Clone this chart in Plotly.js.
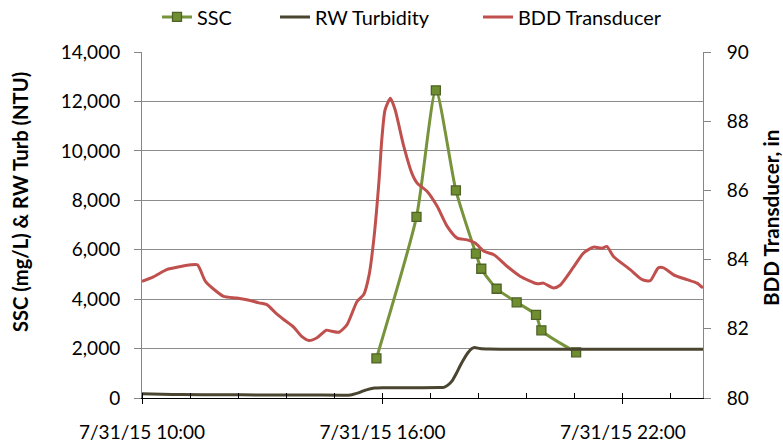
<!DOCTYPE html>
<html>
<head>
<meta charset="utf-8">
<script src="https://cdn.plot.ly/plotly-3.0.1.min.js"></script>
<style>html,body{margin:0;padding:0;background:#fff;}#chart{width:783px;height:442px;}</style>
</head>
<body>
<div id="chart"></div>
<script>
// ---- data ----
const sscTimes = ["2015-07-31 15:51","2015-07-31 16:51","2015-07-31 17:20","2015-07-31 17:50","2015-07-31 18:20","2015-07-31 18:28","2015-07-31 18:51","2015-07-31 19:21","2015-07-31 19:50","2015-07-31 19:58","2015-07-31 20:50"];
const sscValues = [1600, 7330, 12450, 8400, 5840, 5230, 4420, 3870, 3360, 2740, 1850];

const rwTimes = ["2015-07-31 10:00","2015-07-31 10:30","2015-07-31 11:00","2015-07-31 12:00","2015-07-31 13:00","2015-07-31 14:00","2015-07-31 15:00","2015-07-31 15:12","2015-07-31 15:24","2015-07-31 15:36","2015-07-31 15:48","2015-07-31 16:00","2015-07-31 16:30","2015-07-31 17:00","2015-07-31 17:25","2015-07-31 17:32","2015-07-31 17:38","2015-07-31 17:44","2015-07-31 17:50","2015-07-31 17:56","2015-07-31 18:02","2015-07-31 18:08","2015-07-31 18:14","2015-07-31 18:18","2015-07-31 18:26","2015-07-31 18:40","2015-07-31 19:00","2015-07-31 20:00","2015-07-31 21:00","2015-07-31 22:00","2015-07-31 23:00","2015-08-01 00:00"];
const rwValues = [170, 150, 140, 130, 125, 120, 115, 125, 210, 330, 400, 415, 415, 415, 420, 430, 520, 680, 960, 1285, 1580, 1830, 2000, 2040, 2000, 1980, 1975, 1975, 1975, 1975, 1975, 1975];

const bddTimes = ["2015-07-31 10:00","2015-07-31 10:17","2015-07-31 10:37","2015-07-31 10:58","2015-07-31 11:13","2015-07-31 11:23","2015-07-31 11:35","2015-07-31 11:47","2015-07-31 12:02","2015-07-31 12:22","2015-07-31 12:37","2015-07-31 12:55","2015-07-31 13:07","2015-07-31 13:20","2015-07-31 13:32","2015-07-31 13:47","2015-07-31 13:59","2015-07-31 14:10","2015-07-31 14:22","2015-07-31 14:36","2015-07-31 14:44","2015-07-31 14:55","2015-07-31 15:07","2015-07-31 15:22","2015-07-31 15:32","2015-07-31 15:40","2015-07-31 15:47","2015-07-31 15:55","2015-07-31 15:59","2015-07-31 16:04","2015-07-31 16:12","2015-07-31 16:19","2015-07-31 16:32","2015-07-31 16:44","2015-07-31 16:52","2015-07-31 17:07","2015-07-31 17:22","2015-07-31 17:37","2015-07-31 17:52","2015-07-31 18:07","2015-07-31 18:19","2015-07-31 18:32","2015-07-31 18:47","2015-07-31 19:07","2015-07-31 19:26","2015-07-31 19:52","2015-07-31 20:01","2015-07-31 20:16","2015-07-31 20:26","2015-07-31 20:46","2015-07-31 21:01","2015-07-31 21:16","2015-07-31 21:29","2015-07-31 21:36","2015-07-31 21:46","2015-07-31 22:11","2015-07-31 22:29","2015-07-31 22:41","2015-07-31 22:53","2015-07-31 23:01","2015-07-31 23:16","2015-07-31 23:36","2015-07-31 23:51","2015-08-01 00:00"];
const bddValues = [83.37, 83.50, 83.71, 83.80, 83.85, 83.85, 83.37, 83.15, 82.94, 82.89, 82.84, 82.75, 82.70, 82.46, 82.27, 82.05, 81.78, 81.66, 81.74, 81.96, 81.93, 81.90, 82.12, 82.79, 82.99, 83.55, 84.57, 86.31, 87.46, 88.33, 88.66, 88.33, 87.27, 86.50, 86.21, 85.97, 85.54, 84.96, 84.62, 84.57, 84.48, 84.24, 84.14, 83.80, 83.52, 83.30, 83.32, 83.18, 83.26, 83.78, 84.19, 84.36, 84.33, 84.38, 84.09, 83.71, 83.42, 83.39, 83.76, 83.76, 83.56, 83.42, 83.32, 83.18];

const xRange = ["2015-07-31 10:00", "2015-08-01 00:00"];
const xTickVals = ["2015-07-31 10:00", "2015-07-31 16:00", "2015-07-31 22:00"];
const xTickText = ["7/31/15 10:00", "7/31/15 16:00", "7/31/15 22:00"];
const seriesNames = ["SSC", "RW Turbidity", "BDD Transducer"];
const leftTitle = "SSC (mg/L) & RW Turb (NTU)";
const rightTitle = "BDD Transducer, in";

// ---- geometry (pixels) ----
const W = 783, H = 442;
const M = {l: 142, r: 80, t: 52, b: 44};
const PW = W - M.l - M.r, PH = H - M.t - M.b;
const px2x = p => (p - M.l) / PW;
const px2y = p => (H - M.b - p) / PH;

// ---- font sizing from target text widths ----
const FONT = "Lato, 'Open Sans', sans-serif";
const cv = document.createElement("canvas").getContext("2d");
function fitSize(text, weight, target) {
  cv.font = weight + " 100px Lato, 'Open Sans', sans-serif";
  return 100 * target / cv.measureText(text).width;
}
const tickSize = (fitSize("7/31/15 22:00", "normal", 127) + fitSize("14,000", "normal", 59)) / 2;
const legendSize = fitSize("RW Turbidity", "normal", 115);
const leftTitleSize = fitSize(leftTitle, "bold", 261);
const rightTitleSize = fitSize(rightTitle, "bold", 177);

// ---- chart ----
const traces = [
  {
    x: sscTimes, y: sscValues, name: seriesNames[0], type: "scatter", mode: "lines+markers",
    line: {color: "#77933C", width: 3, shape: "spline", smoothing: 0.6},
    marker: {symbol: "square", size: 9, color: "#6F8E2F", line: {color: "#4F6228", width: 1.3}},
    xaxis: "x", yaxis: "y", legend: "legend"
  },
  {
    x: rwTimes, y: rwValues, name: seriesNames[1], type: "scatter", mode: "lines",
    line: {color: "#4A4530", width: 3, shape: "spline", smoothing: 0.6},
    xaxis: "x", yaxis: "y", legend: "legend2"
  },
  {
    x: bddTimes, y: bddValues, name: seriesNames[2], type: "scatter", mode: "lines",
    line: {color: "#C0504D", width: 3, shape: "spline", smoothing: 0.6},
    xaxis: "x", yaxis: "y2", legend: "legend3"
  }
];

function legendAt(textStartPx) {
  return {
    orientation: "h", x: px2x(textStartPx - 45), xanchor: "left", y: px2y(17), yanchor: "middle",
    font: {family: FONT, size: legendSize, color: "#000"}, bgcolor: "rgba(0,0,0,0)", borderwidth: 0
  };
}

const layout = {
  width: W, height: H,
  margin: {l: M.l, r: M.r, t: M.t, b: M.b, pad: 0, autoexpand: false},
  paper_bgcolor: "#fff", plot_bgcolor: "#fff",
  font: {family: FONT, size: tickSize, color: "#000"},
  showlegend: true,
  legend: legendAt(202),
  legend2: legendAt(320),
  legend3: legendAt(523),
  xaxis: {
    type: "date", range: xRange, tickmode: "array", tickvals: xTickVals, ticktext: xTickText,
    ticks: "outside", ticklen: 5, tickcolor: "#000", tickwidth: 1,
    showline: true, linecolor: "#000", linewidth: 1, showgrid: false, zeroline: false,
    tickfont: {family: FONT, size: tickSize, color: "#000"}, ticklabelstandoff: 12,
    minor: {tickmode: "linear", dtick: 72 * 60 * 1000, tick0: "2015-07-31 10:00", ticks: "inside", ticklen: 5, tickcolor: "#000", tickwidth: 1, showgrid: false},
    automargin: false
  },
  xaxis2: {
    type: "date", range: xRange, tickmode: "array", tickvals: xTickVals, overlaying: "x", anchor: "y", side: "bottom",
    ticks: "inside", ticklen: 5, tickcolor: "#000", tickwidth: 1, showticklabels: false,
    showline: false, showgrid: false, zeroline: false, automargin: false
  },
  yaxis: {
    range: [0, 14000], dtick: 2000, tick0: 0, tickformat: ",d",
    ticks: "outside", ticklen: 7, tickcolor: "#868686", tickwidth: 1,
    showline: true, linecolor: "#868686", linewidth: 1,
    showgrid: true, gridcolor: "#8C8C8C", gridwidth: 1, zeroline: false,
    tickfont: {family: FONT, size: tickSize, color: "#000"}, ticklabelstandoff: 10,
    automargin: false
  },
  yaxis2: {
    range: [80, 90], dtick: 2, tick0: 80, overlaying: "y", side: "right", anchor: "x",
    ticks: "outside", ticklen: 7, tickcolor: "#868686", tickwidth: 1,
    showline: true, linecolor: "#868686", linewidth: 1, showgrid: false, zeroline: false,
    tickfont: {family: FONT, size: tickSize, color: "#000"}, ticklabelstandoff: 12,
    automargin: false
  },
  annotations: [
    {text: leftTitle, xref: "paper", yref: "paper", x: px2x(19.5), y: px2y(202.5), xanchor: "center", yanchor: "middle",
     textangle: -90, showarrow: false, font: {family: FONT, size: leftTitleSize, color: "#000", weight: "bold"}},
    {text: rightTitle, xref: "paper", yref: "paper", x: px2x(771), y: px2y(218), xanchor: "center", yanchor: "middle",
     textangle: -90, showarrow: false, font: {family: FONT, size: rightTitleSize, color: "#000", weight: "bold"}}
  ]
};

Plotly.newPlot("chart", traces, layout, {staticPlot: true, displayModeBar: false});
</script>
</body>
</html>
